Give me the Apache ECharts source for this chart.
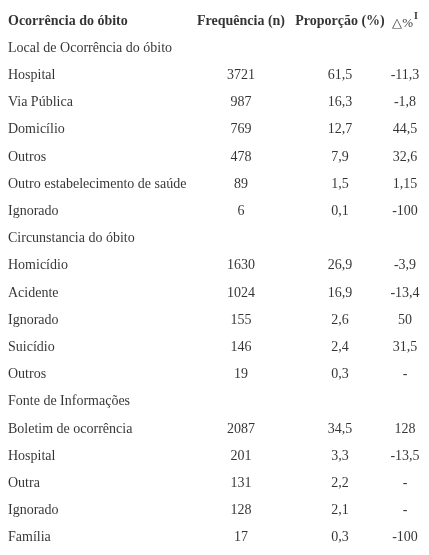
<!DOCTYPE html><html><head><meta charset="utf-8"><script src="https://cdn.jsdelivr.net/npm/echarts@6/dist/echarts.min.js"></script>
<style>html,body{margin:0;padding:0;background:#fff}#c{width:429px;height:555px}</style></head><body><div id="c"></div><script>
const headers=['Ocorrência do óbito','Frequência (n)','Proporção (%)','{d|△%}{s|I}'];
const rows=['Local de Ocorrência do óbito','Hospital','Via Pública','Domicílio','Outros','Outro estabelecimento de saúde','Ignorado','Circunstancia do óbito','Homicídio','Acidente','Ignorado','Suicídio','Outros','Fonte de Informações','Boletim de ocorrência','Hospital','Outra','Ignorado','Família'];
const freq=['', '3721','987','769','478','89','6','', '1630','1024','155','146','19','', '2087','201','131','128','17'];
const prop=['', '61,5','16,3','12,7','7,9','1,5','0,1','', '26,9','16,9','2,6','2,4','0,3','', '34,5','3,3','2,2','2,1','0,3'];
const delta=['', '-11,3','-1,8','44,5','32,6','1,15','-100','', '-3,9','-13,4','50','31,5','-','', '128','-13,5','-','-','-100'];
const cats=['H'].concat(rows.map((r,i)=>'r'+i));
const font={fontFamily:'Liberation Serif',fontSize:14,color:'#000',textBorderWidth:0};
function col(x,align,vals,hdr){
  const data=[{value:[x,'H'],label:{formatter:hdr,fontWeight:'bold'}}];
  vals.forEach((v,i)=>{if(v!=='')data.push({value:[x,'r'+i],label:{formatter:v}})});
  return {type:'scatter',symbolSize:0,data,silent:true,
    label:{show:true,position:'inside',align,...font,
      rich:{d:{...font,fontSize:13,fontWeight:'normal',verticalAlign:'bottom',padding:[6,0,0,0]},s:{...font,fontSize:10,verticalAlign:'top',padding:[0,0,8,1]}}}};
}
const chart=echarts.init(document.getElementById('c'));
chart.setOption({animation:false,
 grid:{left:0,right:0,top:7.4,bottom:3.6},
 xAxis:{type:'value',min:0,max:429,show:false},
 yAxis:{type:'category',data:cats,inverse:true,show:false},
 series:[col(8,'left',rows,headers[0]),col(241,'center',freq,headers[1]),col(340,'center',prop,headers[2]),col(405,'center',delta,headers[3])]
});
</script></body></html>
